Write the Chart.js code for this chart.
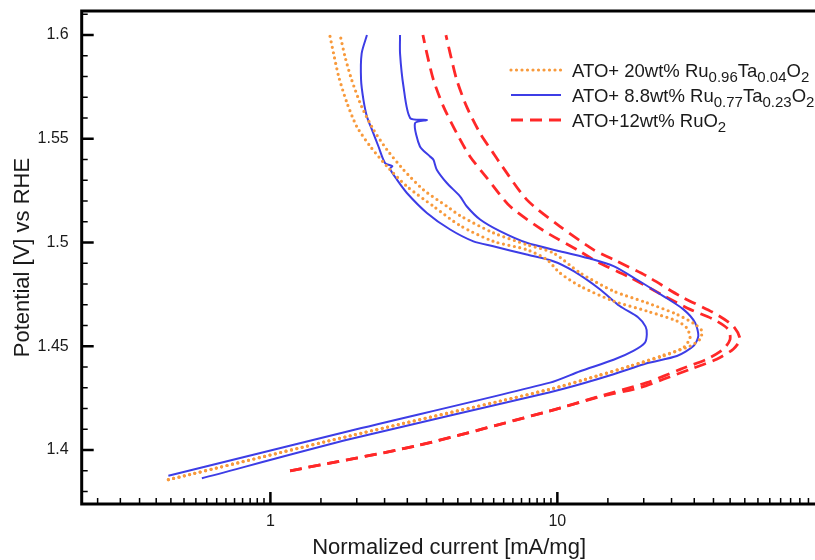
<!DOCTYPE html>
<html>
<head>
<meta charset="utf-8">
<script src="https://cdn.jsdelivr.net/npm/chart.js@4"></script>
<style>
  html, body { margin: 0; padding: 0; background: #fff; overflow: hidden; }
  #wrap { width: 815px; height: 560px; overflow: hidden; }
</style>
</head>
<body>
<div id="wrap"><canvas id="polarization" width="860" height="560"></canvas></div>
<script>
// Polarization scans, current [mA/mg] vs potential [V vs RHE], listed from low potential up.
// Two scans per catalyst.

// ATO + 20wt% Ru0.96Ta0.04O2
const ruta96_a_current = [0.441, 1.90, 9.43, 13.7, 17.9, 23.4, 27.5, 29.0, 28.2, 26.1, 20.5, 15.7, 12.0, 10.2, 9.19, 7.82, 5.98, 4.58, 3.70, 2.99, 2.55, 2.23, 2.00, 1.85, 1.73, 1.66, 1.61];
const ruta96_a_potential = [1.3857, 1.4069, 1.4293, 1.4357, 1.4405, 1.4453, 1.4494, 1.4542, 1.4590, 1.4622, 1.4670, 1.4718, 1.4790, 1.4854, 1.4918, 1.4966, 1.5006, 1.5082, 1.5175, 1.5271, 1.5367, 1.5463, 1.5559, 1.5672, 1.5800, 1.5912, 1.6000];
const ruta96_b_current = [0.441, 1.90, 9.43, 13.7, 17.9, 23.4, 29.0, 31.4, 31.9, 30.2, 26.1, 20.5, 15.7, 12.0, 9.68, 7.82, 5.98, 4.58, 4.12, 3.41, 2.91, 2.55, 2.29, 2.08, 1.92, 1.82, 1.75];
const ruta96_b_potential = [1.3857, 1.4069, 1.4293, 1.4356, 1.4404, 1.4457, 1.4501, 1.4534, 1.4574, 1.4606, 1.4654, 1.4710, 1.4766, 1.4854, 1.4950, 1.4990, 1.5047, 1.5130, 1.5175, 1.5255, 1.5351, 1.5447, 1.5543, 1.5655, 1.5784, 1.5896, 1.6000];

// ATO + 8.8wt% Ru0.77Ta0.23O2
const ruta77_a_current = [0.441, 1.90, 9.43, 12.0, 15.7, 18.4, 20.2, 20.5, 20.3, 19.1, 16.5, 14.1, 11.4, 9.68, 7.82, 5.98, 5.10, 4.23, 3.51, 2.99, 2.76, 2.61, 2.66, 2.51, 2.38, 2.26, 2.17, 2.11, 2.07, 2.08, 2.17];
const ruta77_a_potential = [1.3876, 1.4093, 1.4325, 1.4380, 1.4435, 1.4478, 1.4518, 1.4558, 1.4595, 1.4640, 1.4694, 1.4774, 1.4862, 1.4910, 1.4942, 1.4982, 1.5006, 1.5063, 1.5143, 1.5239, 1.5303, 1.5356, 1.5368, 1.5383, 1.5463, 1.5543, 1.5607, 1.5688, 1.5784, 1.5912, 1.6000];
const ruta77_b_current = [0.577, 1.90, 9.43, 12.0, 15.7, 20.5, 26.1, 29.8, 31.0, 30.2, 27.5, 23.4, 18.9, 15.7, 13.35, 10.2, 7.82, 6.31, 5.38, 4.83, 4.58, 4.12, 3.80, 3.70, 3.60, 3.32, 3.19, 3.51, 3.07, 2.91, 2.83, 2.83];
const ruta77_b_potential = [1.3864, 1.4053, 1.4279, 1.4317, 1.4365, 1.4418, 1.4453, 1.4501, 1.4550, 1.4614, 1.4678, 1.4742, 1.4822, 1.4886, 1.4918, 1.4958, 1.4999, 1.5055, 1.5111, 1.5175, 1.5223, 1.5287, 1.5351, 1.5399, 1.5415, 1.5463, 1.5575, 1.5591, 1.5600, 1.5751, 1.5912, 1.6000];

// ATO + 12wt% RuO2
const ruo2_a_current = [1.171, 3.24, 9.43, 13.7, 20.5, 26.8, 33.2, 37.9, 40.0, 39.4, 35.0, 29.0, 23.4, 17.9, 13.7, 12.0, 8.94, 6.84, 5.68, 4.96, 4.46, 4.01, 3.70, 3.51, 3.40];
const ruo2_a_potential = [1.3900, 1.4021, 1.4189, 1.4255, 1.4325, 1.4389, 1.4438, 1.4486, 1.4534, 1.4582, 1.4630, 1.4678, 1.4745, 1.4832, 1.4909, 1.4957, 1.5058, 1.5175, 1.5312, 1.5415, 1.5527, 1.5655, 1.5784, 1.5912, 1.6000];
const ruo2_b_current = [1.171, 3.24, 9.43, 14.1, 19.4, 23.4, 29.0, 35.9, 41.0, 43.3, 41.0, 35.0, 26.8, 20.5, 15.7, 13.35, 10.2, 7.82, 6.31, 5.98, 5.38, 4.83, 4.46, 4.23, 4.09];
const ruo2_b_potential = [1.3900, 1.4021, 1.4189, 1.4257, 1.4301, 1.4341, 1.4389, 1.4438, 1.4486, 1.4534, 1.4598, 1.4662, 1.4742, 1.4838, 1.4918, 1.4966, 1.5078, 1.5207, 1.5383, 1.5431, 1.5527, 1.5655, 1.5784, 1.5912, 1.6000];

// legend text, split into normal / subscript pieces
const legendLabels = [
  [['ATO+ 20wt% Ru', 0], ['0.96', 1], ['Ta', 0], ['0.04', 1], ['O', 0], ['2', 1]],
  [['ATO+ 8.8wt% Ru', 0], ['0.77', 1], ['Ta', 0], ['0.23', 1], ['O', 0], ['2', 1]],
  [['ATO+12wt% RuO', 0], ['2', 1]]
];

// axes
const xMin = 0.22, xMax = 80;
const yMin = 1.374, yMax = 1.6116;
const xMajorTicks = [1, 10];
const xMajorLabels = ['1', '10'];
const yMajorTicks = [1.4, 1.45, 1.5, 1.55, 1.6];
const yMajorLabels = ['1.4', '1.45', '1.5', '1.55', '1.6'];
const xTitle = 'Normalized current [mA/mg]';
const yTitle = 'Potential [V] vs RHE';

const ORANGE = '#f89a3c';
const BLUE = '#3d3de6';
const RED = '#ff2828';
const FONT = '"Liberation Sans", Arial, Helvetica, sans-serif';

function pairs(xs, ys) {
  return xs.map(function(x, i) { return {x: x, y: ys[i]}; });
}

const dotted = {borderColor: ORANGE, borderWidth: 3.2, borderDash: [0, 5.5], borderCapStyle: 'round'};
const solid = {borderColor: BLUE, borderWidth: 2, borderDash: []};
const dashed = {borderColor: RED, borderWidth: 2.8, borderDash: [12, 7], borderCapStyle: 'butt'};

function scan(data, style) {
  return Object.assign({data: data, showLine: true, pointRadius: 0, tension: 0.25, fill: false}, style);
}

const datasets = [
  scan(pairs(ruta96_a_current, ruta96_a_potential), dotted),
  scan(pairs(ruta96_b_current, ruta96_b_potential), dotted),
  scan(pairs(ruta77_a_current, ruta77_a_potential), solid),
  scan(pairs(ruta77_b_current, ruta77_b_potential), solid),
  scan(pairs(ruo2_a_current, ruo2_a_potential), dashed),
  scan(pairs(ruo2_b_current, ruo2_b_potential), dashed)
];
const legendStyles = [dotted, solid, dashed];

// minor tick positions
const yMinorTicks = [];
for (let k = 138; k <= 161; k++) {
  if (k % 5 !== 0) yMinorTicks.push(k / 100);
}
const xMinorTicks = [];
[0.1, 1, 10].forEach(function(d) {
  for (let j = 2; j < 20; j++) {
    const v = j * d / 2;
    if (v >= xMin && v <= xMax && xMajorTicks.indexOf(v) < 0) xMinorTicks.push(v);
  }
});

// inward ticks, boxed frame, labels and the legend
const framePlugin = {
  id: 'frame',
  afterDatasetsDraw(chart) {
    const ctx = chart.ctx;
    const a = chart.chartArea;
    const xs = chart.scales.x, ys = chart.scales.y;
    ctx.save();
    ctx.strokeStyle = '#000';
    ctx.setLineDash([]);

    ctx.lineWidth = 1.5;
    ctx.beginPath();
    yMinorTicks.forEach(function(v) {
      const p = ys.getPixelForValue(v);
      ctx.moveTo(a.left, p); ctx.lineTo(a.left + 6, p);
    });
    xMinorTicks.forEach(function(v) {
      const p = xs.getPixelForValue(v);
      ctx.moveTo(p, a.bottom); ctx.lineTo(p, a.bottom - 6);
    });
    ctx.stroke();

    ctx.lineWidth = 2.5;
    ctx.beginPath();
    yMajorTicks.forEach(function(v) {
      const p = ys.getPixelForValue(v);
      ctx.moveTo(a.left, p); ctx.lineTo(a.left + 12, p);
    });
    xMajorTicks.forEach(function(v) {
      const p = xs.getPixelForValue(v);
      ctx.moveTo(p, a.bottom); ctx.lineTo(p, a.bottom - 12);
    });
    ctx.stroke();

    ctx.lineWidth = 3;
    ctx.strokeRect(a.left, a.top, a.right - a.left, a.bottom - a.top);

    // tick labels
    ctx.fillStyle = '#1a1a1a';
    ctx.font = '16px ' + FONT;
    ctx.textAlign = 'right';
    ctx.textBaseline = 'middle';
    yMajorTicks.forEach(function(v, i) {
      ctx.fillText(yMajorLabels[i], a.left - 13, ys.getPixelForValue(v));
    });
    ctx.textAlign = 'center';
    xMajorTicks.forEach(function(v, i) {
      ctx.fillText(xMajorLabels[i], xs.getPixelForValue(v), a.bottom + 18);
    });

    // axis titles
    ctx.font = '22px ' + FONT;
    ctx.fillText(xTitle, (a.left + a.right) / 2, a.bottom + 44);
    ctx.save();
    ctx.translate(23, (a.top + a.bottom) / 2);
    ctx.rotate(-Math.PI / 2);
    ctx.fillText(yTitle, 0, 0);
    ctx.restore();

    // legend
    legendLabels.forEach(function(parts, i) {
      const y = 70 + i * 25;
      const st = legendStyles[i];
      ctx.save();
      ctx.strokeStyle = st.borderColor;
      ctx.lineWidth = st.borderWidth;
      ctx.lineCap = st.borderCapStyle || 'butt';
      ctx.setLineDash(st.borderDash);
      ctx.beginPath();
      ctx.moveTo(511, y); ctx.lineTo(561, y);
      ctx.stroke();
      ctx.restore();

      let x = 572;
      ctx.textAlign = 'left';
      ctx.textBaseline = 'alphabetic';
      parts.forEach(function(p) {
        ctx.font = (p[1] ? '15px ' : '18.5px ') + FONT;
        ctx.fillText(p[0], x, y + (p[1] ? 11.5 : 6.5));
        x += ctx.measureText(p[0]).width;
      });
    });

    ctx.restore();
  }
};

new Chart(document.getElementById('polarization'), {
  type: 'scatter',
  data: {datasets: datasets},
  options: {
    responsive: false,
    animation: false,
    devicePixelRatio: 1,
    layout: {padding: {left: 81.7, top: 11, right: 860 - 816.5, bottom: 56}},
    plugins: {legend: {display: false}, tooltip: {enabled: false}},
    scales: {
      x: {type: 'logarithmic', min: xMin, max: xMax, display: false},
      y: {type: 'linear', min: yMin, max: yMax, display: false}
    }
  },
  plugins: [framePlugin]
});
</script>
</body>
</html>
